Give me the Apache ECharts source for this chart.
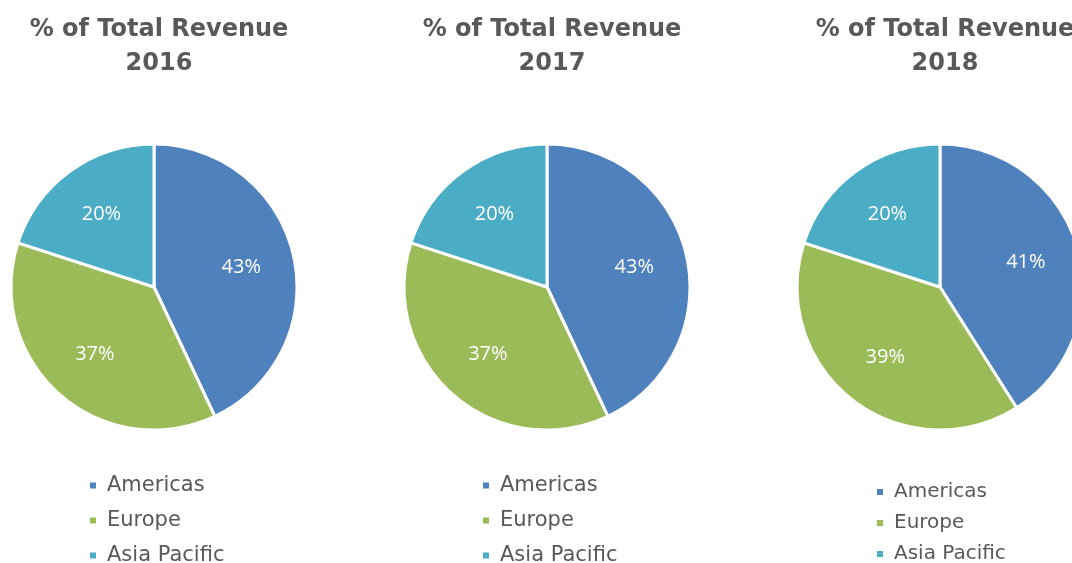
<!DOCTYPE html>
<html>
<head>
<meta charset="utf-8">
<script src="https://cdn.jsdelivr.net/npm/echarts@6/dist/echarts.min.js"></script>
<style>
  html, body { margin: 0; padding: 0; background: #fff; }
  #chart { width: 1072px; height: 563px; }
</style>
</head>
<body>
<div id="chart"></div>
<script>
const regions = ['Americas', 'Europe', 'Asia Pacific'];
const years = ['2016', '2017', '2018'];
const share2016 = [43, 37, 20];
const share2017 = [43, 37, 20];
const share2018 = [41, 39, 20];
const colors = ['#4F81BD', '#9BBB59', '#4BACC6'];

const allShares = [share2016, share2017, share2018];
const centersX = [154, 547, 940];
const centerY = 287;
const legendLeft = [88, 481, 875];
const legendTop = [475, 475, 482];

const chart = echarts.init(document.getElementById('chart'));

const option = {
  color: colors,
  animation: false,
  title: years.map((y, i) => ({
    text: '% of Total Revenue\n' + y,
    left: centersX[i],
    top: 8,
    textAlign: 'center',
    textStyle: {
      fontFamily: 'DejaVu Sans',
      fontWeight: 'bold',
      fontSize: 24,
      lineHeight: 34,
      color: '#595959'
    }
  })),
  legend: years.map((y, i) => ({
    orient: 'vertical',
    left: legendLeft[i],
    top: legendTop[i],
    height: 110,
    padding: 0,
    icon: 'rect',
    itemWidth: 8,
    itemHeight: 8,
    itemGap: i === 2 ? 11 : 14,
    selectedMode: false,
    data: regions,
    textStyle: {
      fontFamily: 'DejaVu Sans',
      fontSize: i === 2 ? 20 : 21,
      lineHeight: 20,
      color: '#595959',
      padding: [0, 0, 0, 5]
    }
  })),
  series: years.map((y, i) => ({
    name: y,
    type: 'pie',
    center: [centersX[i], centerY],
    radius: 143,
    startAngle: 90,
    clockwise: true,
    label: {
      show: true,
      position: 'inside',
      formatter: '{c}%',
      color: '#fff',
      fontFamily: 'Open Sans',
      fontSize: 20
    },
    // push the inside labels a little further out, like the original
    labelLayout: function (params) {
      const r = params.labelRect;
      const lx = r.x + r.width / 2;
      const ly = r.y + r.height / 2;
      return {
        x: centersX[i] + (lx - centersX[i]) * 1.2,
        y: centerY + (ly - centerY) * 1.2,
        align: 'center',
        verticalAlign: 'middle'
      };
    },
    labelLine: { show: false },
    itemStyle: { borderColor: '#fff', borderWidth: 3 },
    emphasis: { disabled: true },
    data: regions.map((r, k) => ({ name: r, value: allShares[i][k] }))
  }))
};

chart.setOption(option);
</script>
</body>
</html>
